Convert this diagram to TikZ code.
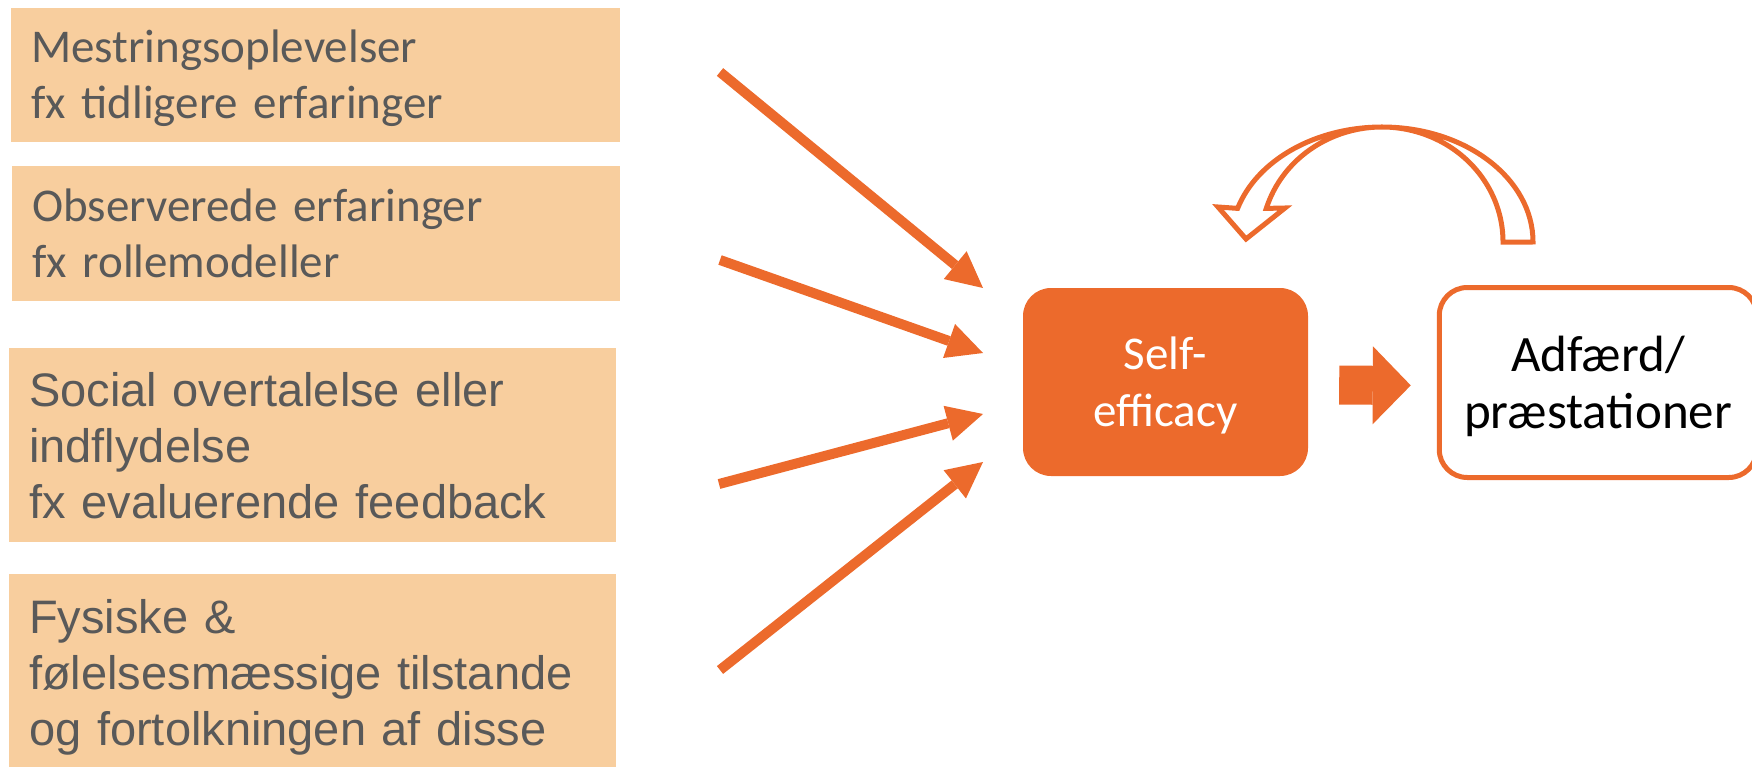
\documentclass[tikz,border=0pt]{standalone}
\usepackage{fontspec}
\setmainfont{Carlito}
\newfontfamily\arialfam{Liberation Sans}
\usetikzlibrary{arrows.meta,positioning}
\definecolor{peach}{HTML}{F8CE9E}
\definecolor{brand}{HTML}{EC6A2C}
\definecolor{txtgray}{HTML}{595959}

\begin{document}
\begin{tikzpicture}[x=1pt,y=-1pt,
  src/.style={rectangle,fill=peach,text=txtgray,anchor=north west,align=left,
    inner xsep=20pt,inner ysep=0pt},
  calib/.style={font=\fontsize{47}{56}\selectfont},
  arial/.style={font=\arialfam\fontsize{47}{56}\selectfont},
  selfbox/.style={rectangle,rounded corners=28pt,fill=brand,text=white,align=center,
    minimum width=285pt,minimum height=188pt,font=\fontsize{47}{57}\selectfont,
    text depth=0pt},
  outbox/.style={rectangle,rounded corners=28pt,draw=brand,line width=5pt,fill=white,
    align=center,minimum width=317.5pt,minimum height=190pt,font=\fontsize{51}{57}\selectfont,
    text depth=0pt},
  feed/.style={color=brand,line width=10pt,-{Triangle[length=36pt,width=36pt,line width=0pt]}},
  push/.style={color=brand,line width=39pt,-{Triangle[length=38pt,width=78pt,line width=0pt]},
    shorten <=31pt,shorten >=26pt},
  loopback/.style={draw=brand,line width=5pt,fill=white,line join=miter}]
  \useasboundingbox (0,0) rectangle (1752,767);

  % the four sources
  \node[src,calib,text width=569pt,minimum height=134pt,text depth=59pt] (mestring) at (11,8)
    {Mestringsoplevelser\\fx tidligere erfaringer};
  \node[src,calib,text width=568pt,minimum height=135pt] (observ) at (12,166)
    {Observerede erfaringer\\fx rollemodeller};
  \node[src,arial,text width=567pt,minimum height=194pt] (social) at (9,348)
    {Social overtalelse eller\\indflydelse\\fx evaluerende feedback};
  \node[src,arial,text width=567pt,minimum height=206pt] (fysisk) at (9,574)
    {Fysiske \&\\følelsesmæssige tilstande\\og fortolkningen af disse};

  \node[selfbox] (self) at (1165.5,382) {Self-\\efficacy};
  \node[outbox] (adf) at (1598,382.5) {Adfærd/\\præstationer};

  \coordinate (s1) at (720,72);  \coordinate (t1) at (983,288);
  \coordinate (s2) at (720,260); \coordinate (t2) at (983,353);
  \coordinate (s3) at (719,484); \coordinate (t3) at (983,414);
  \coordinate (s4) at (720,670); \coordinate (t4) at (983,462);

  \foreach \i in {1,...,4}
    \draw[feed] (s\i) -- (t\i);

  \draw[push] ([yshift=-3pt]self.east) -- ([yshift=-3pt]adf.west);

  % curved arrow back
  \coordinate (tail) at (1533,242);
  \draw[loopback] (tail) arc[start angle=0,end angle=163,x radius=151pt,y radius=115pt]
    -- (1218,207) -- (1246,239) -- (1285,208) -- (1266.3,208.4)
    arc[start angle=163,end angle=0,x radius=121pt,y radius=115pt] -- cycle;
\end{tikzpicture}
\end{document}
